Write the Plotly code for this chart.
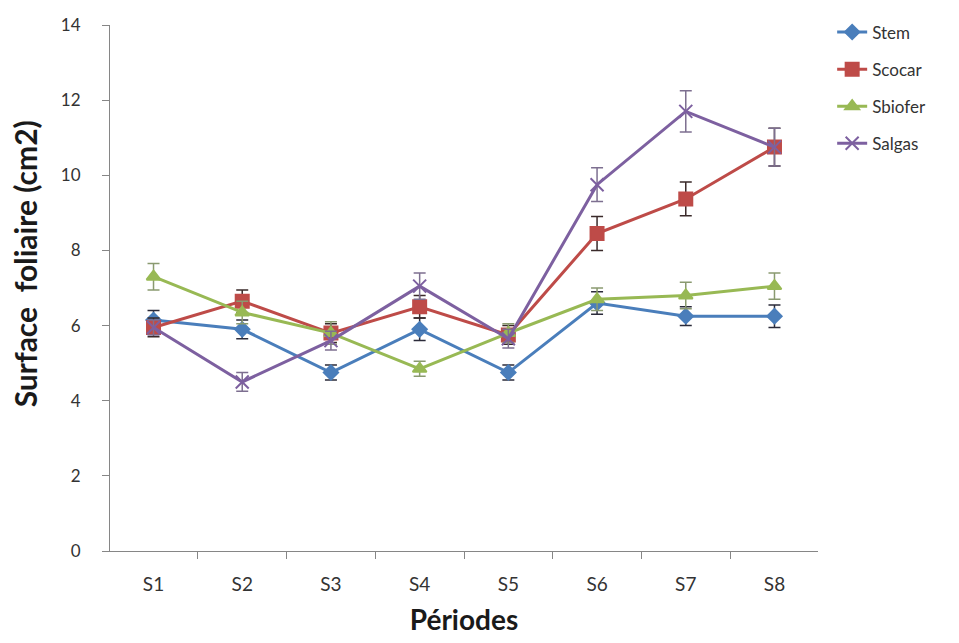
import plotly.graph_objects as go

periods = ["S1", "S2", "S3", "S4", "S5", "S6", "S7", "S8"]

stem = [6.15, 5.9, 4.75, 5.9, 4.75, 6.6, 6.25, 6.25]
stem_err = [0.25, 0.25, 0.2, 0.3, 0.2, 0.3, 0.25, 0.3]

scocar = [5.95, 6.65, 5.8, 6.5, 5.75, 8.45, 9.37, 10.75]
scocar_err = [0.25, 0.3, 0.25, 0.3, 0.25, 0.45, 0.45, 0.5]

sbiofer = [7.3, 6.35, 5.8, 4.85, 5.8, 6.7, 6.8, 7.05]
sbiofer_err = [0.35, 0.3, 0.3, 0.2, 0.25, 0.3, 0.35, 0.35]

salgas = [5.95, 4.5, 5.6, 7.05, 5.65, 9.75, 11.7, 10.75]
salgas_err = [0.2, 0.25, 0.25, 0.35, 0.25, 0.45, 0.55, 0.5]

series = [
    ("Stem", stem, stem_err, "#4A7EBB", "diamond", 11, "#2b2b3a"),
    ("Scocar", scocar, scocar_err, "#BE4B48", "square", 13, "#3a2a2a"),
    ("Sbiofer", sbiofer, sbiofer_err, "#98B954", "triangle-up", 12, "#8a9a70"),
    ("Salgas", salgas, salgas_err, "#7D60A0", "x-thin-open", 13, "#7d6f90"),
]

fig = go.Figure()
for name, vals, errs, color, sym, size, ecol in series:
    fig.add_trace(go.Scatter(
        x=periods, y=vals, name=name, legendgroup=name,
        mode="lines+markers",
        line=dict(color=color, width=3),
        marker=dict(symbol=sym, size=size, color=color,
                    line=dict(color=color, width=2)),
        error_y=dict(type="data", array=errs, visible=True,
                     color=ecol, thickness=1.5, width=6),
    ))

fig.update_layout(
    width=959, height=643,
    margin=dict(l=110, r=141, t=25, b=92),
    paper_bgcolor="white", plot_bgcolor="white",
    font=dict(family="Lato, Open Sans, sans-serif", color="#333333"),
    showlegend=True,
    legend=dict(x=1.02, y=1.02, xanchor="left", yanchor="top",
                font=dict(size=17, color="#333333"),
                traceorder="grouped", tracegroupgap=12,
                bgcolor="rgba(0,0,0,0)"),
    xaxis=dict(
        type="category", tickson="boundaries",
        showline=True, linecolor="#868686", linewidth=1.2,
        ticks="outside", ticklen=7, tickcolor="#868686",
        showgrid=False, zeroline=False, ticklabelstandoff=16,
        tickfont=dict(size=19, color="#333333"),
        title=dict(text="<b>Périodes</b>", font=dict(size=28, color="#1a1a1a"), standoff=16),
    ),
    yaxis=dict(
        range=[0, 14], dtick=2,
        showline=True, linecolor="#868686", linewidth=1.2,
        ticks="outside", ticklen=7, tickcolor="#868686",
        showgrid=False, zeroline=False, ticklabelstandoff=18,
        tickfont=dict(size=17, color="#333333"),
    ),
    annotations=[dict(
        text="<b>Surface  foliaire (cm2)</b>", textangle=-90,
        xref="paper", yref="paper", x=-0.12, y=0.545,
        xanchor="center", yanchor="middle", showarrow=False,
        font=dict(size=30, color="#1a1a1a"),
    )],
)

fig.write_html("out.html")
